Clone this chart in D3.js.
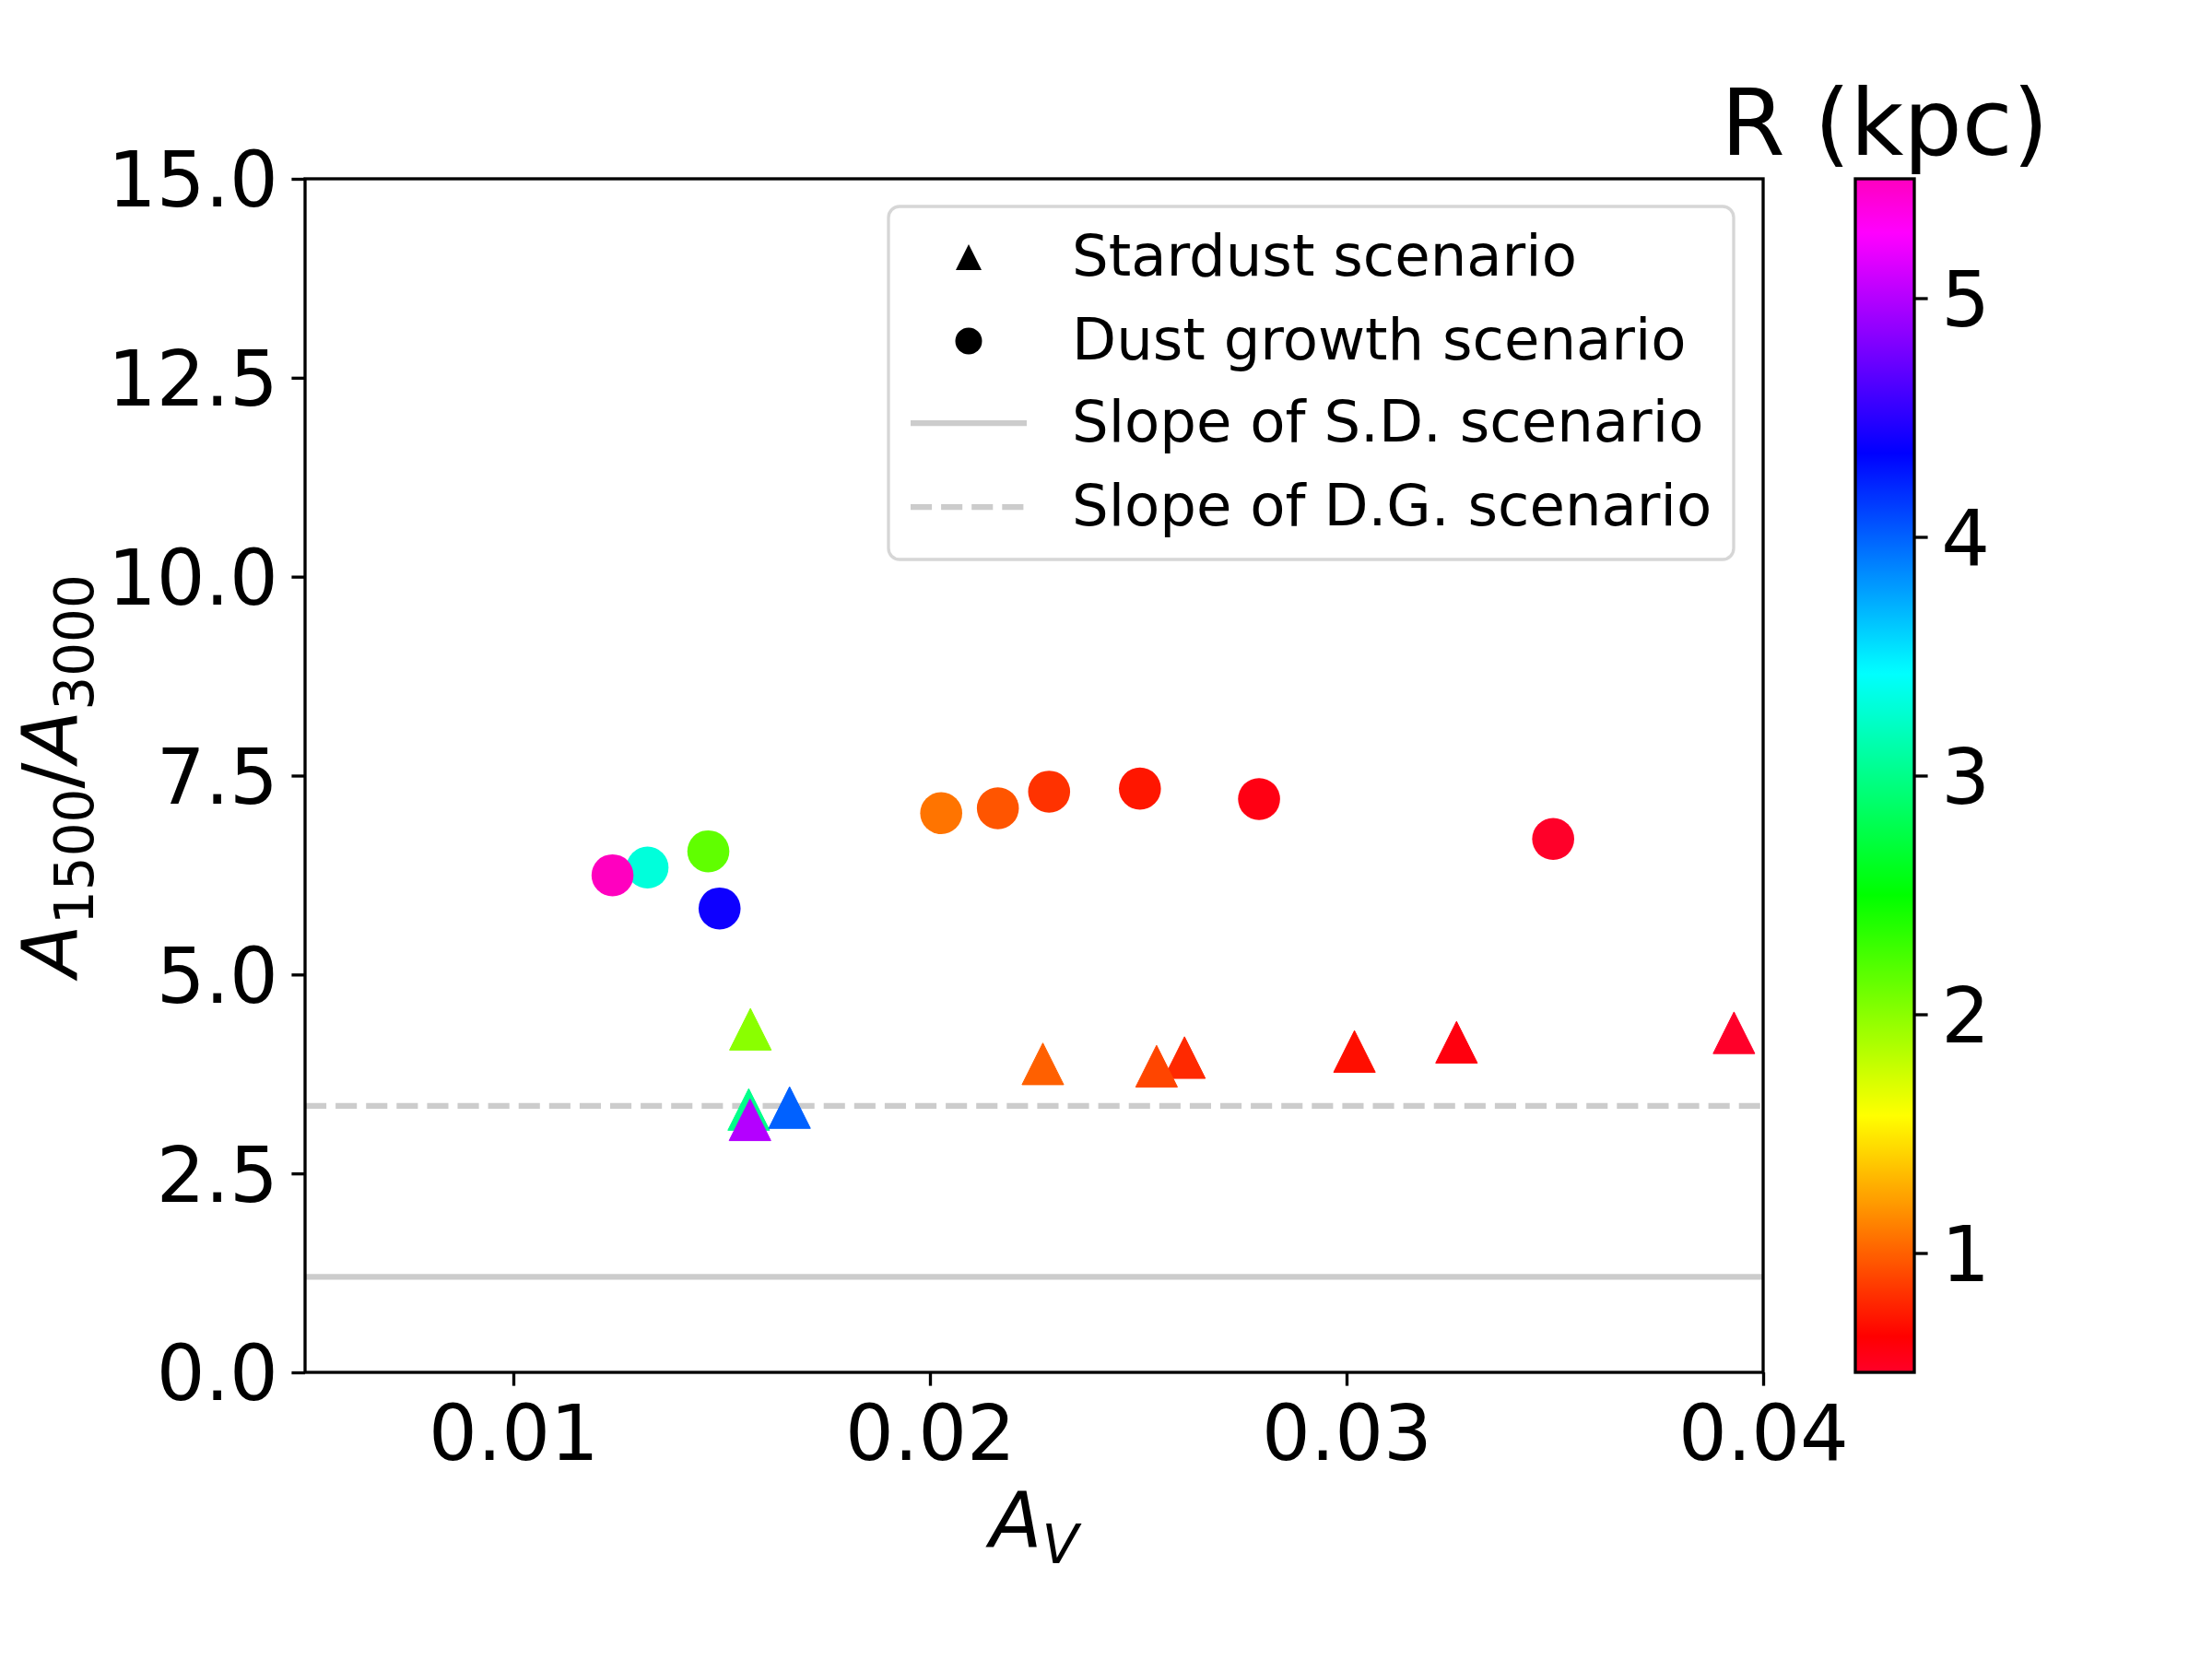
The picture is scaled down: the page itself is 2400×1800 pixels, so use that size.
<!DOCTYPE html>
<html>
<head>
<meta charset="utf-8">
<script src="https://cdn.jsdelivr.net/npm/d3@7"></script>
<style>
  html, body { margin: 0; padding: 0; background: #ffffff; }
  svg { display: block; font-family: "DejaVu Sans", sans-serif; }
</style>
</head>
<body>
<svg id="chart" width="2400" height="1800"></svg>
<script>
// ---------------- DATA ----------------
// Stardust scenario (triangles), sorted by radius R (kpc)
const stardustR  = [0.5, 0.6, 0.7, 0.8, 0.9, 1.0, 2.0, 3.0, 4.0, 5.0];
const stardustAV = [0.03930, 0.03264, 0.03019, 0.02611, 0.02544, 0.02271, 0.01569, 0.01565, 0.01663, 0.01568];
const stardustRatio = [4.268, 4.149, 4.033, 3.956, 3.848, 3.877, 4.312, 3.304, 3.328, 3.174];

// Dust growth scenario (circles), sorted by radius R (kpc)
const growthR  = [0.5, 0.58, 0.73, 0.83, 0.96, 1.07, 2.15, 3.3, 4.4, 5.5];
const growthAV = [0.03496, 0.02790, 0.02504, 0.02286, 0.02163, 0.02027, 0.01468, 0.01322, 0.01495, 0.01238];
const growthRatio = [6.703, 7.205, 7.336, 7.298, 7.089, 7.028, 6.548, 6.344, 5.830, 6.247];

// Reference slopes (horizontal lines)
const slopeSD = 1.2;
const slopeDG = 3.35;

// Tick labels
const xTicks = [0.01, 0.02, 0.03, 0.04];
const yTicks = [0, 2.5, 5, 7.5, 10, 12.5, 15];
const cTicks = [1, 2, 3, 4, 5];
const legendLabels = ["Stardust scenario", "Dust growth scenario", "Slope of S.D. scenario", "Slope of D.G. scenario"];

// gist_rainbow colormap stops
const cmapPos = [0, 0.03, 0.215, 0.4, 0.586, 0.77, 0.954, 1];
const cmapCol = ["rgb(255,0,41)", "rgb(255,0,0)", "rgb(255,255,0)", "rgb(0,255,0)", "rgb(0,255,255)", "rgb(0,0,255)", "rgb(255,0,255)", "rgb(255,0,191)"];

// ---------------- LAYOUT ----------------
const svg = d3.select("#chart");
const W = 2400, H = 1800;
const plot = { left: 331, right: 1913, top: 194, bottom: 1489 };
const cbar = { left: 2013, right: 2077 };
const lw = 3.33;          // 0.8pt at 300dpi
const tickLen = 14.6, tickPad = 14.6;
const tickFont = 83;

svg.append("rect").attr("width", W).attr("height", H).attr("fill", "#ffffff");

const x = d3.scaleLinear().domain([0.005, 0.04]).range([plot.left, plot.right]);
const y = d3.scaleLinear().domain([0, 15]).range([plot.bottom, plot.top]);
const rainbow = d3.scaleLinear().domain(cmapPos).range(cmapCol).interpolate(d3.interpolateRgb).clamp(true);
const rNorm = d3.scaleLinear().domain([0.5, 5.5]).range([0, 1]);
const color = r => rainbow(rNorm(r));

// ---------------- REFERENCE LINES ----------------
const lineG = svg.append("g");
lineG.append("line")
  .attr("x1", plot.left).attr("x2", plot.right)
  .attr("y1", y(slopeSD)).attr("y2", y(slopeSD))
  .attr("stroke", "#cccccc").attr("stroke-width", 6.25);
lineG.append("line")
  .attr("x1", plot.left).attr("x2", plot.right)
  .attr("y1", y(slopeDG)).attr("y2", y(slopeDG))
  .attr("stroke", "#cccccc").attr("stroke-width", 6.25)
  .attr("stroke-dasharray", "23.1,10");

// ---------------- MARKERS ----------------
const triPath = (cx, cy, h) => `M${cx},${cy - h}L${cx + h},${cy + h}L${cx - h},${cy + h}Z`;

const stardust = stardustR.map((r, i) => ({ r, av: stardustAV[i], v: stardustRatio[i] }));
const growth = growthR.map((r, i) => ({ r, av: growthAV[i], v: growthRatio[i] }));

svg.append("g").selectAll("path").data(stardust).join("path")
  .attr("d", d => triPath(x(d.av), y(d.v), 22.6))
  .attr("fill", d => color(d.r))
  .attr("stroke", d => color(d.r)).attr("stroke-width", 1).attr("stroke-linejoin", "round");

svg.append("g").selectAll("circle").data(growth).join("circle")
  .attr("cx", d => x(d.av)).attr("cy", d => y(d.v)).attr("r", 22.8)
  .attr("fill", d => color(d.r));

// ---------------- AXES ----------------
const styleAxis = (g) => {
  g.selectAll(".tick line").attr("stroke", "#000").attr("stroke-width", lw);
  g.selectAll("text").attr("font-size", tickFont).attr("fill", "#000")
    .attr("font-family", "DejaVu Sans, sans-serif");
  g.select(".domain").remove();
};

const xAxis = svg.append("g").attr("transform", `translate(0,${plot.bottom})`)
  .call(d3.axisBottom(x).tickValues(xTicks).tickFormat(d3.format(".2f")).tickSize(tickLen).tickPadding(tickPad));
styleAxis(xAxis);
xAxis.selectAll("text").attr("dy", "0.79em");

const yAxis = svg.append("g").attr("transform", `translate(${plot.left},0)`)
  .call(d3.axisLeft(y).tickValues(yTicks).tickFormat(d3.format(".1f")).tickSize(tickLen).tickPadding(tickPad));
styleAxis(yAxis);
yAxis.selectAll("text").attr("dy", "0.36em");

// frame
svg.append("rect")
  .attr("x", plot.left).attr("y", plot.top)
  .attr("width", plot.right - plot.left).attr("height", plot.bottom - plot.top)
  .attr("fill", "none").attr("stroke", "#000").attr("stroke-width", lw);

// axis labels
const xl = svg.append("text")
  .attr("x", (plot.left + plot.right) / 2).attr("y", 1679)
  .attr("text-anchor", "middle").attr("font-size", 83).attr("fill", "#000");
xl.append("tspan").attr("font-style", "italic").text("A");
xl.append("tspan").attr("font-style", "italic").attr("font-size", 58).attr("dy", 17).text("V");

const yl = svg.append("text")
  .attr("transform", `translate(84,${(plot.top + plot.bottom) / 2}) rotate(-90)`)
  .attr("text-anchor", "middle").attr("font-size", 83).attr("fill", "#000");
yl.append("tspan").attr("font-style", "italic").text("A");
yl.append("tspan").attr("font-size", 58).attr("dy", 17).text("1500");
yl.append("tspan").attr("dy", -17).text("/");
yl.append("tspan").attr("font-style", "italic").text("A");
yl.append("tspan").attr("font-size", 58).attr("dy", 17).text("3000");

// ---------------- LEGEND ----------------
const leg = svg.append("g");
leg.append("rect")
  .attr("x", 964).attr("y", 224).attr("width", 917).attr("height", 383)
  .attr("rx", 12).attr("ry", 12)
  .attr("fill", "#ffffff").attr("fill-opacity", 0.8)
  .attr("stroke", "#d6d6d6").attr("stroke-width", 3.3);
const rowY = [279, 370, 459, 550];
const hx = 1051;
leg.append("path").attr("d", triPath(hx, rowY[0], 14)).attr("fill", "#000");
leg.append("circle").attr("cx", hx).attr("cy", rowY[1]).attr("r", 14.5).attr("fill", "#000");
leg.append("line").attr("x1", 988).attr("x2", 1114).attr("y1", rowY[2]).attr("y2", rowY[2])
  .attr("stroke", "#cccccc").attr("stroke-width", 6.25);
leg.append("line").attr("x1", 988).attr("x2", 1114).attr("y1", rowY[3]).attr("y2", rowY[3])
  .attr("stroke", "#cccccc").attr("stroke-width", 6.25).attr("stroke-dasharray", "23.1,10");
leg.selectAll("text.lab").data(legendLabels).join("text")
  .attr("class", "lab")
  .attr("x", 1163).attr("y", (d, i) => rowY[i] + 20)
  .attr("font-size", 62.5).attr("fill", "#000").text(d => d);

// ---------------- COLORBAR ----------------
const cy = d3.scaleLinear().domain([0.5, 5.5]).range([plot.bottom, plot.top]);
const defs = svg.append("defs");
const grad = defs.append("linearGradient").attr("id", "cgrad")
  .attr("x1", 0).attr("y1", 1).attr("x2", 0).attr("y2", 0);
grad.selectAll("stop").data(d3.range(0, 1.0001, 0.005)).join("stop")
  .attr("offset", d => d).attr("stop-color", d => rainbow(d));
svg.append("rect")
  .attr("x", cbar.left).attr("y", plot.top)
  .attr("width", cbar.right - cbar.left).attr("height", plot.bottom - plot.top)
  .attr("fill", "url(#cgrad)").attr("stroke", "#000").attr("stroke-width", lw);

const cAxis = svg.append("g").attr("transform", `translate(${cbar.right},0)`)
  .call(d3.axisRight(cy).tickValues(cTicks).tickFormat(d3.format("d")).tickSize(tickLen).tickPadding(tickPad));
styleAxis(cAxis);
cAxis.selectAll("text").attr("dy", "0.36em");

svg.append("text")
  .attr("x", (cbar.left + cbar.right) / 2).attr("y", 168)
  .attr("text-anchor", "middle").attr("font-size", 100).attr("fill", "#000")
  .text("R (kpc)");
</script>
</body>
</html>
